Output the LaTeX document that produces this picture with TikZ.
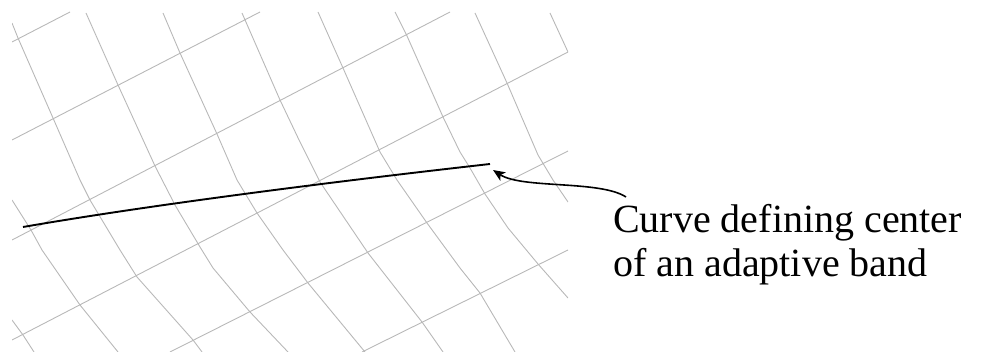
\documentclass[tikz,border=0pt]{standalone}
\usepackage{fontspec}
\setmainfont{Liberation Serif}
\usetikzlibrary{arrows.meta}
\tikzset{
  gridline/.style={draw=black!28, line width=0.9pt, line join=round},
  bandcurve/.style={draw=black, line width=1.9pt},
  callout/.style={draw=black, line width=1.6pt, -{Stealth[length=12pt,width=10pt,inset=3pt]}},
  labeltext/.style={anchor=base west, align=left, inner sep=0pt, font=\fontsize{40}{44}\selectfont}
}
\begin{document}
\begin{tikzpicture}[x=1pt,y=-1pt]
\useasboundingbox (0,0) rectangle (982,352);
\begin{scope}
\clip (12,12) rectangle (568,352);
% rising grid lines
\draw[gridline] (12,42) -- (70,12);
\draw[gridline] (12,140) -- (260,12);
\draw[gridline] (12,240) -- (450,12);
\draw[gridline] (12,340) -- (568,52);
\draw[gridline] (170,352) -- (568,151);
\draw[gridline] (362,352) -- (568,250);
% descending, bending grid lines
\draw[gridline] (12,320) -- (23,335) -- (34,352);
\draw[gridline] (12,200) -- (31,230) -- (42,250) -- (80,305) -- (118,352);
\draw[gridline] (12,23) -- (18,38) -- (53,118) -- (80,180) -- (90,200) -- (120,250) -- (137,277) -- (193,340) -- (202,352);
\draw[gridline] (86,13) -- (118,85) -- (155,166) -- (175,205) -- (200,247) -- (213,268) -- (250,312) -- (288,352);
\draw[gridline] (163,13) -- (180,53) -- (217,134) -- (237,180) -- (257,213) -- (283,250) -- (308,283) -- (365,352);
\draw[gridline] (242,13) -- (280,100) -- (300,142) -- (320,182) -- (368,253) -- (422,322) -- (443,352);
\draw[gridline] (318,12) -- (343,68) -- (380,152) -- (397,180) -- (427,223) -- (460,268) -- (480,293) -- (515,352);
\draw[gridline] (395,12) -- (407,36) -- (443,117) -- (460,152) -- (470,168) -- (485,194) -- (508,228) -- (538,264) -- (568,298);
\draw[gridline] (475,13) -- (507,83) -- (538,155) -- (553,180) -- (568,202);
\draw[gridline] (550,13) -- (568,52);
\end{scope}
% band centre curve
\coordinate (cstart) at (23,227);
\coordinate (cend) at (490,164);
\draw[bandcurve] (cstart) .. controls (150,205) and (330,182) .. (cend);
% label and callout
\node[labeltext] (lbl) at (613,277) {Curve defining center\\of an adaptive band};
\coordinate (arrfrom) at (626,197);
\coordinate (arrto) at (493,170);
\draw[callout] (arrfrom) .. controls (600,180) and (522,189) .. (arrto);
\end{tikzpicture}
\end{document}
